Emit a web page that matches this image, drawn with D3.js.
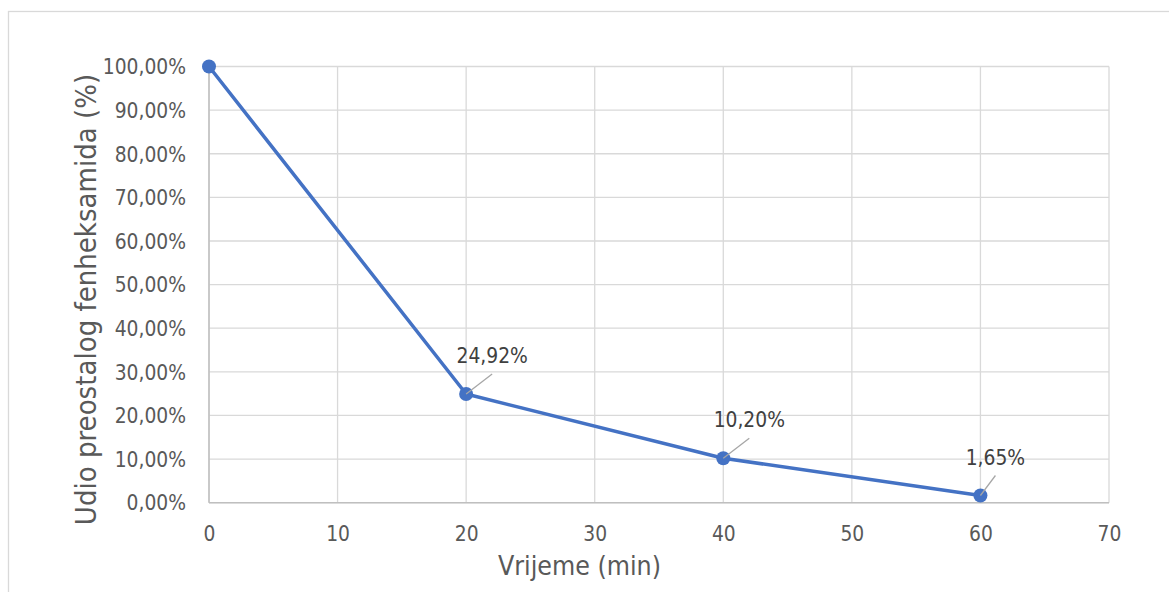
<!DOCTYPE html>
<html>
<head>
<meta charset="utf-8">
<script src="https://cdn.jsdelivr.net/npm/d3@7"></script>
<style>
  body { margin: 0; background: #fff; }
  text { font-family: "DejaVu Sans Condensed", "DejaVu Sans", sans-serif; fill: #595959; }
  .grid line { stroke: #d9d9d9; stroke-width: 1.3; }
  .axis path, .axis line { stroke: none; }
</style>
</head>
<body>
<div id="chart"></div>
<script>
// data
var times = [0, 20, 40, 60]
var remaining = [100, 24.92, 10.20, 1.65]
var xTicks = [0, 10, 20, 30, 40, 50, 60, 70]
var yTicks = [0, 10, 20, 30, 40, 50, 60, 70, 80, 90, 100]
var labelled = [false, true, true, true]

var svgWidth = 1169
var svgHeight = 592

var margin = {
  top: 66.5,
  right: 60,
  bottom: 89.5,
  left: 209
}

var width = 1109 - margin.left
var height = 502.7 - margin.top

var locale = d3.formatLocale({ decimal: ",", thousands: ".", grouping: [3], currency: ["", ""] })
var pct = locale.format(".2f")

var svg = d3.select("#chart")
  .append("svg")
  .attr("width", svgWidth)
  .attr("height", svgHeight)

// chart frame
svg.append("rect")
  .attr("x", 8.5)
  .attr("y", 11.5)
  .attr("width", 1300)
  .attr("height", 800)
  .attr("fill", "none")
  .attr("stroke", "#d9d9d9")
  .attr("stroke-width", 1.3)

var chartGroup = svg.append("g")
  .attr("transform", `translate(${margin.left}, ${margin.top})`)

var xScale = d3.scaleLinear()
  .domain([0, 70])
  .range([0, width])

var yScale = d3.scaleLinear()
  .domain([0, 100])
  .range([height, 0])

// gridlines
chartGroup.append("g")
  .attr("class", "grid")
  .selectAll("line")
  .data(yTicks)
  .enter()
  .append("line")
  .attr("x1", 0)
  .attr("x2", width)
  .attr("y1", d => yScale(d))
  .attr("y2", d => yScale(d))

chartGroup.append("g")
  .attr("class", "grid")
  .selectAll("line")
  .data(xTicks)
  .enter()
  .append("line")
  .attr("x1", d => xScale(d))
  .attr("x2", d => xScale(d))
  .attr("y1", 0)
  .attr("y2", height)

// axis lines
chartGroup.append("line")
  .attr("x1", 0).attr("x2", width)
  .attr("y1", height).attr("y2", height)
  .attr("stroke", "#bfbfbf").attr("stroke-width", 1.5)

chartGroup.append("line")
  .attr("x1", 0).attr("x2", 0)
  .attr("y1", 0).attr("y2", height)
  .attr("stroke", "#bfbfbf").attr("stroke-width", 1.5)

// axes (labels only)
var bottomAxis = d3.axisBottom(xScale).tickValues(xTicks).tickSize(0).tickPadding(0)
var leftAxis = d3.axisLeft(yScale).tickValues(yTicks).tickSize(0).tickPadding(0)
  .tickFormat(d => pct(d) + "%")

chartGroup.append("g")
  .attr("class", "axis")
  .attr("transform", `translate(0, ${height})`)
  .call(bottomAxis)
  .selectAll("text")
  .attr("y", 38.8)
  .attr("dy", 0)
  .style("font-size", "20.8px")

chartGroup.append("g")
  .attr("class", "axis")
  .call(leftAxis)
  .selectAll("text")
  .attr("x", -23)
  .attr("dy", "0.35em")
  .style("font-size", "20.8px")

// line + markers
var line = d3.line()
  .x((d, i) => xScale(times[i]))
  .y(d => yScale(d))

chartGroup.append("path")
  .datum(remaining)
  .attr("d", line)
  .attr("fill", "none")
  .attr("stroke", "#4472c4")
  .attr("stroke-width", 3.5)
  .attr("stroke-linejoin", "round")

chartGroup.selectAll("circle")
  .data(remaining)
  .enter()
  .append("circle")
  .attr("cx", (d, i) => xScale(times[i]))
  .attr("cy", d => yScale(d))
  .attr("r", 7)
  .attr("fill", "#4472c4")

// data labels with leader lines
var shifts = [[0, 0], [26, -31], [26, -31], [15, -31]]
var labels = chartGroup.append("g")
  .selectAll("g")
  .data(remaining.map((v, i) => ({ v: v, t: times[i], i: i })).filter(d => labelled[d.i]))
  .enter()
  .append("g")
  .attr("transform", d => `translate(${xScale(d.t)}, ${yScale(d.v)})`)

labels.append("line")
  .attr("x1", 0)
  .attr("y1", 0)
  .attr("x2", d => shifts[d.i][0])
  .attr("y2", d => shifts[d.i][1] + 11)
  .attr("stroke", "#a6a6a6")
  .attr("stroke-width", 1.3)

labels.append("text")
  .attr("x", d => shifts[d.i][0])
  .attr("y", d => shifts[d.i][1])
  .attr("text-anchor", "middle")
  .style("font-size", "20.8px")
  .style("fill", "#404040")
  .text(d => pct(d.v) + "%")

// axis titles
svg.append("text")
  .attr("x", 579.5)
  .attr("y", 575)
  .attr("text-anchor", "middle")
  .style("font-size", "26.5px")
  .text("Vrijeme (min)")

svg.append("text")
  .attr("transform", "translate(96, 299.5) rotate(-90)")
  .attr("text-anchor", "middle")
  .style("font-size", "29px")
  .text("Udio preostalog fenheksamida (%)")
</script>
</body>
</html>
